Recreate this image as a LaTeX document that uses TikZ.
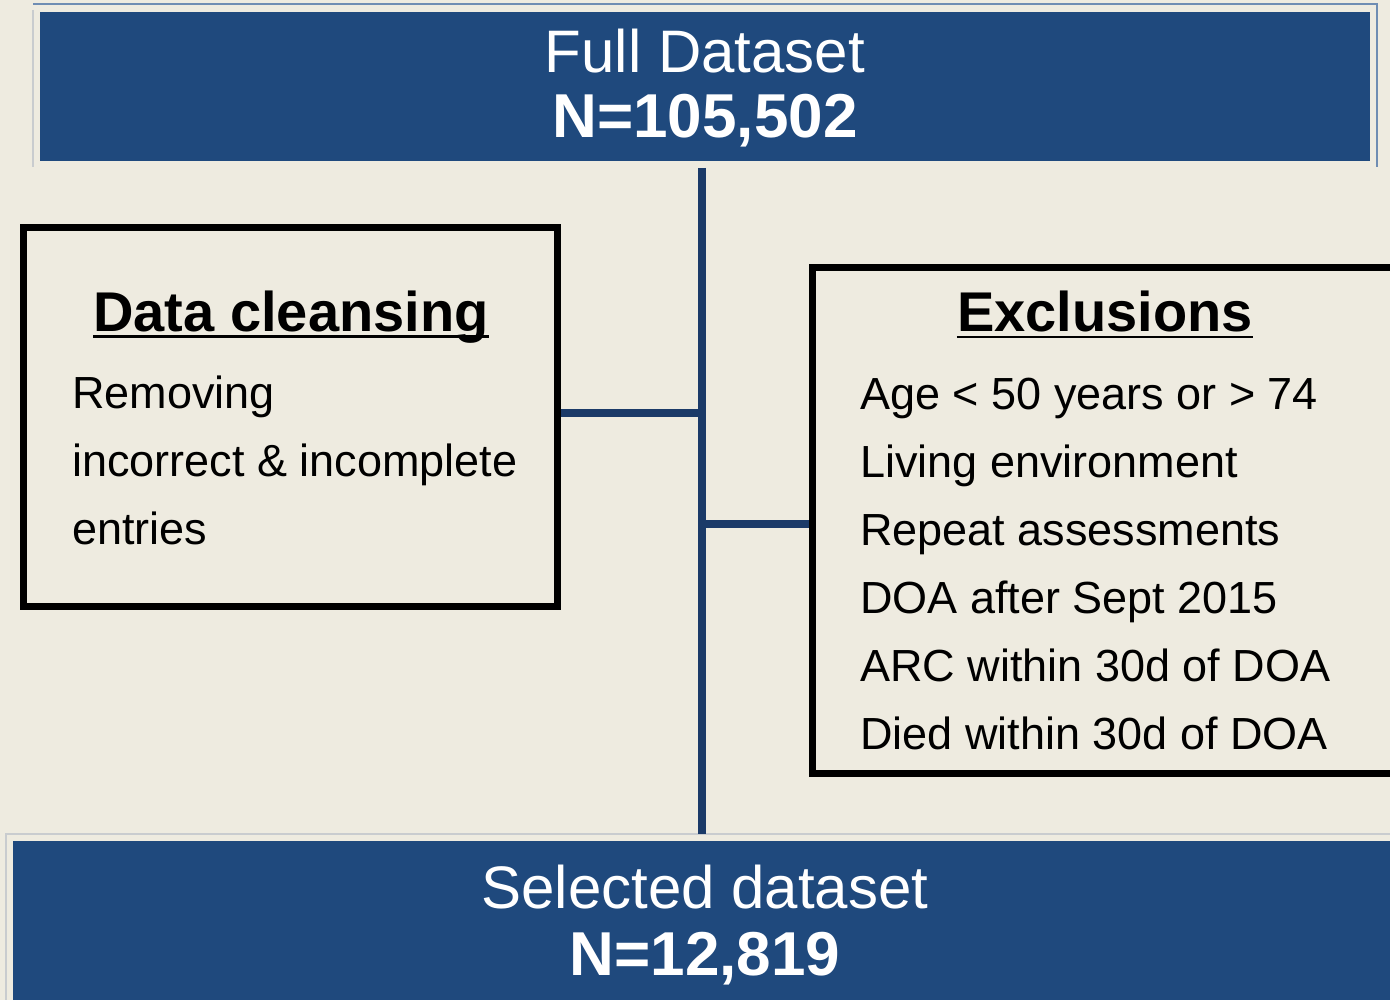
\documentclass[tikz,border=0pt]{standalone}
\usepackage{fontspec}
\setmainfont{Liberation Sans}
\definecolor{bgc}{HTML}{EEEBE0}
\definecolor{boxblue}{HTML}{1F497D}
\definecolor{linkblue}{HTML}{1B3A68}
\definecolor{frameblue}{HTML}{6F8DB3}
\definecolor{framegray}{HTML}{C9CCCF}
\tikzset{
  bluebox/.style={rectangle, fill=boxblue, inner sep=0pt, draw=none},
  linebox/.style={rectangle, draw=black, line width=7pt, inner sep=0pt},
  link/.style={draw=linkblue, line width=8pt},
  titletxt/.style={text=white, inner sep=0pt, anchor=base, font=\fontsize{60}{72}\selectfont},
  numtxt/.style={text=white, inner sep=0pt, anchor=base, font=\bfseries\fontsize{62}{74}\selectfont},
  headtxt/.style={text=black, inner sep=0pt, anchor=base, font=\bfseries\fontsize{56}{66}\selectfont},
  bodytxt/.style={text=black, inner sep=0pt, anchor=base west, font=\fontsize{45}{54}\selectfont},
  uline/.style={draw=black, line width=2.6pt}
}
\begin{document}
\begin{tikzpicture}[x=1pt,y=-1pt]
\useasboundingbox (0,0) rectangle (1390,1000);
\clip (0,0) rectangle (1390,1000);
\fill[bgc] (0,0) rectangle (1390,1000);

% faint frames
\draw[frameblue, line width=1.2pt] (33,4) -- (1377,4) -- (1377,167);
\draw[framegray, line width=1.2pt] (33,10) -- (33,167);
\draw[framegray, line width=1.2pt] (6,1000) -- (6,834) -- (1390,834);

% blue boxes
\node[bluebox, minimum width=1330pt, minimum height=149pt] (top) at (705,86.5) {};
\node[bluebox, minimum width=1382pt, minimum height=164pt] (bottom) at (704,923) {};

% outlined boxes
\node[linebox, minimum width=533.7pt, minimum height=378.8pt] (clean) at (290.2,416.9) {};
\node[linebox, minimum width=588pt, minimum height=505pt] (excl) at (1106,520.5) {};

% connectors
\coordinate (jt) at (701.5,168);
\coordinate (jb) at (701.5,834);
\draw[link] (jt) -- (jb);
\draw[link] ([yshift=4pt]clean.east) -- ([yshift=4pt]clean.east -| jt);
\draw[link] ([yshift=-3.5pt]excl.west -| jt) -- ([yshift=-3.5pt]excl.west);

% texts in blue boxes
\node[titletxt] (t1) at (705,73) {Full Dataset};
\node[numtxt] (t2) at (705,138) {N=105,502};
\node[titletxt] (b1) at (705,908) {Selected dataset};
\node[numtxt] (b2) at (705,975) {N=12,819};

% data cleansing
\node[headtxt] (dch) at (291,332) {Data cleansing};
\draw[uline] ([yshift=-4.5pt]dch.base west) -- ([yshift=-4.5pt]dch.base east);
\node[bodytxt] (dc1) at (72,408) {Removing};
\node[bodytxt] (dc2) at (72,476) {incorrect \& incomplete};
\node[bodytxt] (dc3) at (72,544) {entries};

% exclusions
\node[headtxt] (exh) at (1105,332) {Exclusions};
\draw[uline] ([yshift=-5pt]exh.base west) -- ([yshift=-5pt]exh.base east);
\node[bodytxt] (e1) at (860,409) {Age < 50 years or > 74};
\node[bodytxt] (e2) at (860,477) {Living environment};
\node[bodytxt] (e3) at (860,545) {Repeat assessments};
\node[bodytxt] (e4) at (860,613) {DOA after Sept 2015};
\node[bodytxt] (e5) at (860,681) {ARC within 30d of DOA};
\node[bodytxt] (e6) at (860,749) {Died within 30d of DOA};
\end{tikzpicture}
\end{document}
